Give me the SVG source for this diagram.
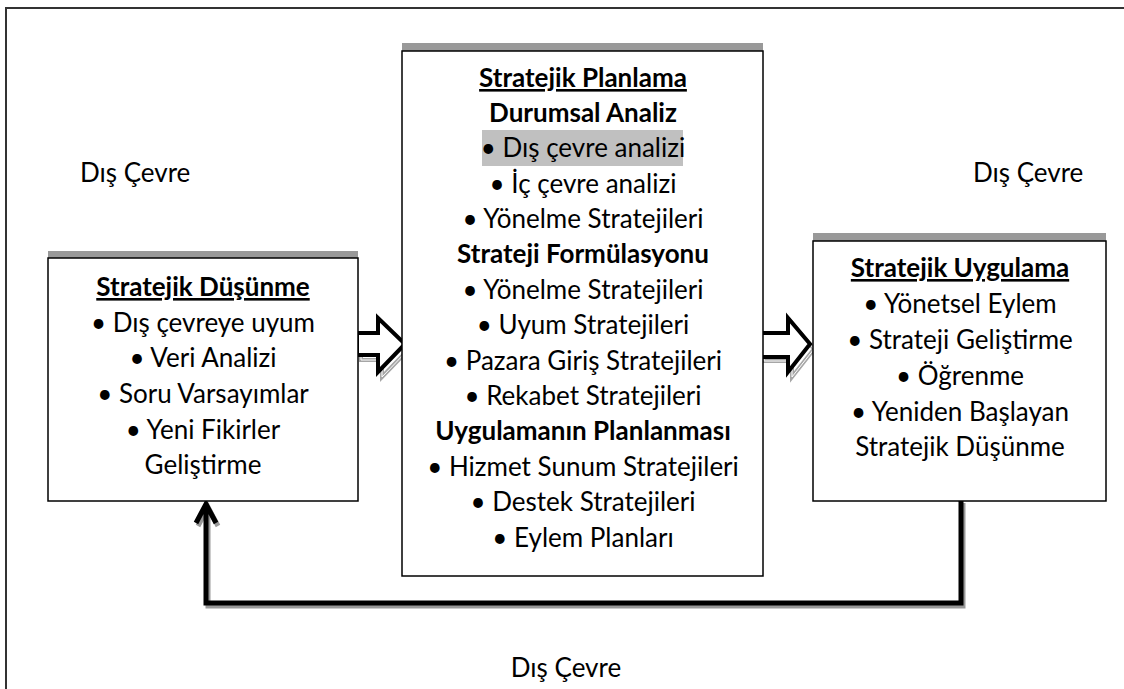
<svg xmlns="http://www.w3.org/2000/svg" width="1124" height="689" viewBox="0 0 1124 689">
<style>
text{font-family:Lato,"Open Sans","Liberation Sans",sans-serif;font-size:26px;fill:#000;text-anchor:middle}
.b{font-weight:bold}
.u{text-decoration:underline}
.box{fill:#fff;stroke:#000;stroke-width:1.5}
.bar{fill:#999}
.env{text-anchor:start}
.blk{fill:#fff;stroke:#000;stroke-width:4;stroke-linejoin:miter}
.sh1{fill:none;stroke:#a6a6a6;stroke-width:4}
.sh2{fill:none;stroke:#fff;stroke-width:1}
</style>
<rect width="1124" height="689" fill="#fff"/>
<path d="M6,689 V8 H1124" fill="none" stroke="#333" stroke-width="2"/>
<g id="env-left"><text class="env" x="80" y="182">Dış Çevre</text></g>
<g id="env-right"><text class="env" x="973" y="182">Dış Çevre</text></g>
<g id="env-bottom"><text x="566" y="677">Dış Çevre</text></g>

<g id="connectors">
  <g id="arrow1">
    <polygon class="sh1" points="361,338 382,338 382,323 409,349 382,377 382,360 361,360"/>
    <polygon class="sh2" points="361,338 382,338 382,323 409,349 382,377 382,360 361,360"/>
    <polygon class="blk" points="357,333 378,333 378,318 405,344 378,372 378,355 357,355"/>
  </g>
  <g id="arrow2">
    <polygon class="sh1" points="764,338 792,338 792,323 814,349 792,377 792,361 764,361"/>
    <polygon class="sh2" points="764,338 792,338 792,323 814,349 792,377 792,361 764,361"/>
    <polygon class="blk" points="760,333 788,333 788,318 810,344 788,372 788,357 760,357"/>
  </g>
  <g id="feedback">
    <path d="M963,503 V606 H208 V508 M198,526 L208,507 L218,526" fill="none" stroke="#999" stroke-width="5"/>
    <path d="M961,501 V603 H206 V505 M196,523 L206,504 L216,523" fill="none" stroke="#000" stroke-width="5"/>
  </g>
</g>

<g id="node-dusunme">
  <rect class="bar" x="48" y="251" width="310" height="7"/>
  <rect class="box" x="48" y="258" width="310" height="243"/>
  <text class="b u" x="203" y="296">Stratejik Düşünme</text>
  <text x="203" y="332">• Dış çevreye uyum</text>
  <text x="203" y="367">• Veri Analizi</text>
  <text x="203" y="403">• Soru Varsayımlar</text>
  <text x="203" y="439">• Yeni Fikirler</text>
  <text x="203" y="474">Geliştirme</text>
</g>

<g id="node-planlama">
  <rect class="bar" x="402" y="43" width="361" height="8"/>
  <rect class="box" x="402" y="51" width="361" height="525"/>
  <rect x="482" y="130" width="201" height="36" fill="#c0c0c0"/>
  <text class="b u" x="583" y="87">Stratejik Planlama</text>
  <text class="b" x="583" y="122">Durumsal Analiz</text>
  <text x="583" y="157">• Dış çevre analizi</text>
  <text x="583" y="193">• İç çevre analizi</text>
  <text x="583" y="228">• Yönelme Stratejileri</text>
  <text class="b" x="583" y="263">Strateji Formülasyonu</text>
  <text x="583" y="299">• Yönelme Stratejileri</text>
  <text x="583" y="334">• Uyum Stratejileri</text>
  <text x="583" y="370">• Pazara Giriş Stratejileri</text>
  <text x="583" y="405">• Rekabet Stratejileri</text>
  <text class="b" x="583" y="440">Uygulamanın Planlanması</text>
  <text x="583" y="476">• Hizmet Sunum Stratejileri</text>
  <text x="583" y="511">• Destek Stratejileri</text>
  <text x="583" y="547">• Eylem Planları</text>
</g>

<g id="node-uygulama">
  <rect class="bar" x="813" y="233" width="293" height="8"/>
  <rect class="box" x="813" y="241" width="293" height="260"/>
  <text class="b u" x="960" y="277">Stratejik Uygulama</text>
  <text x="960" y="313">• Yönetsel Eylem</text>
  <text x="960" y="349">• Strateji Geliştirme</text>
  <text x="960" y="385">• Öğrenme</text>
  <text x="960" y="421">• Yeniden Başlayan</text>
  <text x="960" y="456">Stratejik Düşünme</text>
</g>
</svg>
